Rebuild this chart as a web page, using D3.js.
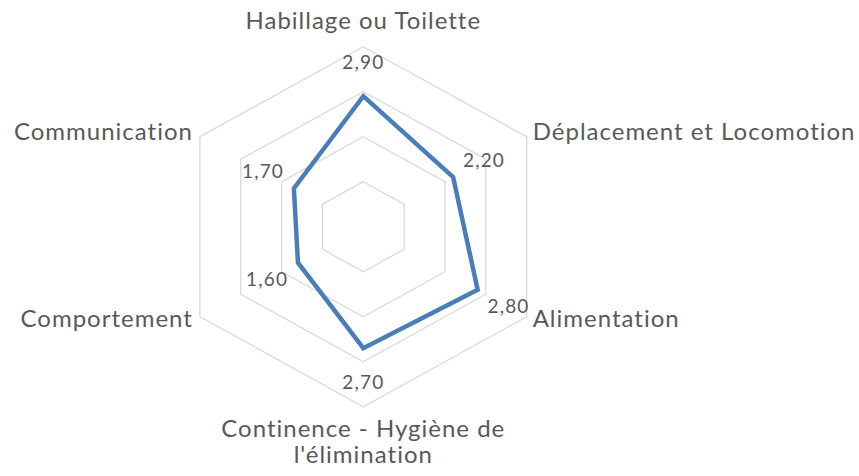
<!DOCTYPE html>
<html>
<head>
<meta charset="utf-8">
<script src="https://cdn.jsdelivr.net/npm/d3@7"></script>
<style>
	html, body { margin: 0; padding: 0; background: #fff; }
	text { font-family: Lato, "Noto Sans", sans-serif; fill: #595959; }
</style>
</head>
<body>
<svg id="chart" width="859" height="476"></svg>
<script>
	var categories = [
		["Habillage ou Toilette"],
		["Déplacement et Locomotion"],
		["Alimentation"],
		["Continence - Hygiène de", "l'élimination"],
		["Comportement"],
		["Communication"]
	];
	var values = [2.9, 2.2, 2.8, 2.7, 1.6, 1.7];
	var valueLabels = ["2,90", "2,20", "2,80", "2,70", "1,60", "1,70"];
	var gridTicks = [1, 2, 3, 4];

	var cx = 363.3, cy = 226.7,
		radius = 180,
		stretchX = 1.048;

	var svg = d3.select("#chart");

	var r = d3.scaleLinear().domain([0, 4]).range([0, radius]);
	var angle = d3.scalePoint().domain(d3.range(categories.length))
		.range([0, 2 * Math.PI * (categories.length - 1) / categories.length]);

	function px(i, dist) { return cx + Math.sin(angle(i)) * dist * stretchX; }
	function py(i, dist) { return cy - Math.cos(angle(i)) * dist; }

	var line = d3.line()
		.x(function(d) { return px(d.i, d.r); })
		.y(function(d) { return py(d.i, d.r); })
		.curve(d3.curveLinearClosed);

	//  hexagon grid
	svg.append("g").selectAll("path")
		.data(gridTicks)
		.enter().append("path")
		.attr("d", function(t) {
			return line(categories.map(function(c, i) { return {i: i, r: r(t)}; }));
		})
		.attr("fill", "none")
		.attr("stroke", "#d9d9d9")
		.attr("stroke-width", 1.3);

	//  series
	svg.append("path")
		.attr("d", line(values.map(function(v, i) { return {i: i, r: r(v)}; })))
		.attr("fill", "none")
		.attr("stroke", "#4a7ebb")
		.attr("stroke-width", 4.5)
		.attr("stroke-linejoin", "miter");

	//  data labels
	svg.append("g").selectAll("text")
		.data(values)
		.enter().append("text")
		.attr("x", function(v, i) { return px(i, r(v) + 34); })
		.attr("y", function(v, i) { return py(i, r(v) + 34); })
		.attr("dy", "0.35em")
		.attr("text-anchor", "middle")
		.style("font-size", "19px")
		.style("letter-spacing", "1.2px")
		.text(function(v, i) { return valueLabels[i]; });

	//  category labels
	var cat = svg.append("g").selectAll("text")
		.data(categories)
		.enter().append("text")
		.style("font-size", "24px")
		.style("letter-spacing", "1px")
		.attr("text-anchor", function(c, i) {
			var s = Math.sin(angle(i));
			return Math.abs(s) < 0.01 ? "middle" : (s > 0 ? "start" : "end");
		})
		.attr("transform", function(c, i) {
			var s = Math.sin(angle(i)), co = Math.cos(angle(i));
			var x = px(i, radius), y = py(i, radius);
			if (Math.abs(s) < 0.01) {
				y = co > 0 ? y - 17.5 : y + 30;
			} else {
				x += s > 0 ? 6 : -7;
				y += 6.65 - 6.7 * co;
			}
			return "translate(" + x + "," + y + ")";
		});
	cat.selectAll("tspan")
		.data(function(c) { return c; })
		.enter().append("tspan")
		.attr("x", 0)
		.attr("dy", function(d, j) { return j === 0 ? 0 : 26.7; })
		.text(function(d) { return d; });
</script>
</body>
</html>
